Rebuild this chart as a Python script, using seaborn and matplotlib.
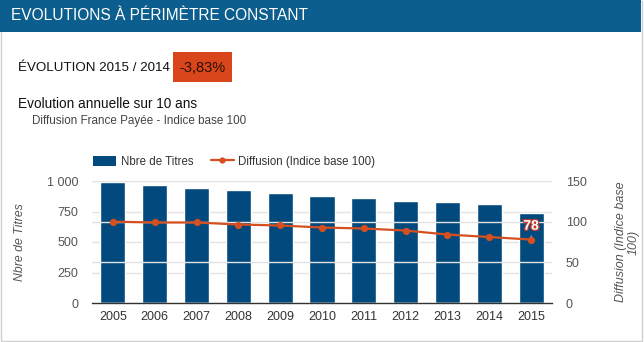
import matplotlib
matplotlib.use("Agg")
import matplotlib.pyplot as plt
import matplotlib.patheffects as pe
from matplotlib.patches import Rectangle
from matplotlib.lines import Line2D
import seaborn as sns
import pandas as pd

years = ["2005", "2006", "2007", "2008", "2009", "2010", "2011", "2012", "2013", "2014", "2015"]
titres = [990, 966, 942, 926, 901, 877, 861, 836, 827, 811, 737]
diffusion = [100, 99, 99, 96.5, 95.3, 92.8, 91.6, 89.1, 84.2, 81.1, 78]
left_ticks = [0, 250, 500, 750, 1000]
left_labels = ["0", "250", "500", "750", "1 000"]
right_ticks = [0, 50, 100, 150]

sns.set_theme(style="white")
plt.rcParams["font.family"] = ["Liberation Sans", "DejaVu Sans"]

BAR = "#024a7d"
LINE = "#d6501f"
HEADER = "#0b5e8d"
GRID = "#e3e3e3"
TXT = "#555555"

df = pd.DataFrame({"year": years, "titres": titres, "diffusion": diffusion})

fig = plt.figure(figsize=(6.44, 3.42), dpi=100)
W, H = 644, 342

def fx(px):
    return px / W

def fy(py):
    return 1 - py / H

# panel border
fig.add_artist(Rectangle((fx(1), fy(341)), fx(641), 340 / H, transform=fig.transFigure,
                         facecolor="none", edgecolor="#cfcfcf", lw=1))
# header
fig.add_artist(Rectangle((0, fy(32)), fx(641), 32 / H, transform=fig.transFigure,
                         facecolor=HEADER, edgecolor="none"))
fig.text(fx(11), fy(16), "EVOLUTIONS À PÉRIMÈTRE CONSTANT", color="white", fontsize=11.2,
         va="center", ha="left")

fig.text(fx(18), fy(68), "ÉVOLUTION 2015 / 2014", color="#111111", fontsize=9.6,
         va="center", ha="left")
fig.add_artist(Rectangle((fx(173), fy(82)), fx(59), 30 / H, transform=fig.transFigure,
                         facecolor="#d9461b", edgecolor="none"))
fig.text(fx(202.5), fy(67.5), "-3,83%", color="#2a0f05", fontsize=10.5,
         va="center", ha="center")

fig.text(fx(18), fy(104), "Evolution annuelle sur 10 ans", color="#111111", fontsize=9.8,
         va="center", ha="left")
fig.text(fx(32), fy(121), "Diffusion France Payée - Indice base 100", color="#444444", fontsize=8.4,
         va="center", ha="left")

ax = fig.add_axes([fx(92), fy(303), fx(460), 122 / H])
sns.barplot(data=df, x="year", y="titres", color=BAR, width=0.6, saturation=1, ax=ax, zorder=2)
ax.set_ylim(0, 1000)
ax.set_xlim(-0.5, 10.5)
ax.set_yticks(left_ticks)
ax.set_yticklabels(left_labels)
ax.set_xlabel("")
ax.set_ylabel("Nbre de Titres", fontstyle="italic", color=TXT, fontsize=8.8, labelpad=15)
for s in ["top", "right", "left"]:
    ax.spines[s].set_visible(False)
ax.spines["bottom"].set_color("#333333")
ax.spines["bottom"].set_linewidth(1)
ax.grid(axis="y", color=GRID, lw=1, zorder=0)
ax.tick_params(axis="y", length=0, pad=10, labelsize=9, labelcolor=TXT)
ax.tick_params(axis="x", length=0, pad=6, labelsize=9, labelcolor="#333333")

ax2 = ax.twinx()
sns.pointplot(data=df, x="year", y="diffusion", color=LINE, markers="o", markersize=4,
              linewidth=1.6, ax=ax2, zorder=5)
ax2.set_ylim(0, 150)
ax2.set_xlim(-0.5, 10.5)
ax2.set_yticks(right_ticks)
ax2.set_ylabel("Diffusion (Indice base\n100)", fontstyle="italic", color=TXT, fontsize=9,
               labelpad=20, linespacing=1.15)
for s in ["top", "right", "left", "bottom"]:
    ax2.spines[s].set_visible(False)
ax2.grid(axis="y", color=GRID, lw=1, zorder=0)
ax2.set_axisbelow(True)
ax2.tick_params(axis="y", length=0, pad=10, labelsize=9, labelcolor=TXT)
ax2.set_xlabel("")

# data label on last point
last_i = len(years) - 1
ax2.annotate(f"{diffusion[-1]:g}", xy=(last_i, diffusion[-1]), xytext=(last_i, diffusion[-1] + 17),
             ha="center", va="center", fontsize=10, color="white", fontweight="bold",
             path_effects=[pe.withStroke(linewidth=1.8, foreground="#c0392b")],
             arrowprops=dict(arrowstyle="-", color="#8fa9c4", lw=1, shrinkA=6, shrinkB=2), zorder=10)

# legend
handles = [Rectangle((0, 0), 1, 1, facecolor=BAR, edgecolor="none"),
           Line2D([0], [0], color=LINE, lw=1.6, marker="o", markersize=3.5)]
fig.legend(handles, ["Nbre de Titres", "Diffusion (Indice base 100)"], loc="center left",
           bbox_to_anchor=(fx(83), fy(162)), ncol=2, frameon=False, fontsize=8.3,
           handlelength=2.0, handleheight=1.0, handletextpad=0.4, columnspacing=1.5,
           labelcolor="#333333")

fig.savefig("out.png", dpi=100)
